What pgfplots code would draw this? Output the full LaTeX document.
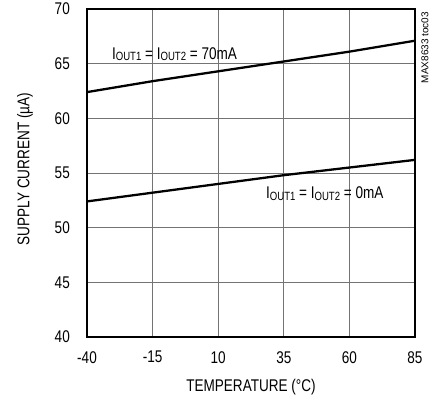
\documentclass[border=0pt]{standalone}
\usepackage{fontspec}
\setmainfont{Liberation Sans}[FakeStretch=0.8]
\newfontfamily\plainsans{Liberation Sans}
\usepackage{pgfplots}
\pgfplotsset{compat=1.18}

% supply current vs temperature
\pgfplotstableread{
T    I
-40  62.4
-15  63.4
10   64.3
35   65.2
60   66.1
85   67.1
}\highload
\pgfplotstableread{
T    I
-40  52.4
-15  53.2
10   54.0
35   54.8
60   55.5
85   56.2
}\noload

\newcommand\sub[1]{\raisebox{-0.1em}{\fontsize{12}{13}\selectfont #1}}
\newcommand\lblfont{\fontsize{17}{20}\selectfont}

\begin{document}
\begin{tikzpicture}
\begin{axis}[
  name=ax,
  width=328bp, height=328bp, scale only axis,
  clip=false,
  xmin=-40, xmax=85, ymin=40, ymax=70,
  xtick={-40,-15,10,35,60,85},
  ytick={40,45,50,55,60,65,70},
  grid=major,
  major grid style={black!55, line width=0.8pt},
  axis line style={line width=2.6pt},
  major tick length=0pt,
  /pgf/number format/assume math mode=true,
  tick label style={font=\lblfont, inner sep=0pt},
  xticklabel shift=14bp,
  yticklabel shift=17bp,
  xlabel={TEMPERATURE (°C)},
  ylabel={SUPPLY CURRENT (µA)},
  x label style={font=\lblfont, inner sep=0pt,
    at={(axis description cs:0.5,0)}, anchor=north, yshift=-42bp},
  y label style={font=\lblfont, inner sep=0pt,
    at={(axis description cs:0,0.5)}, anchor=center, yshift=62bp, xshift=4bp},
]
\addplot[black, line width=2.3pt, no markers] table[x=T, y=I] {\highload};
\addplot[black, line width=2.3pt, no markers] table[x=T, y=I] {\noload};
\node[anchor=base west, inner sep=0pt, font=\lblfont]
  at (axis cs:-30.5,65.4) {I\sub{OUT1} = I\sub{OUT2} = 70mA};
\node[anchor=base west, inner sep=0pt, font=\lblfont]
  at (axis cs:28.2,52.68) {I\sub{OUT1} = I\sub{OUT2} = 0mA};
\end{axis}
\node[rotate=90, anchor=east, inner sep=0pt, font=\plainsans\fontsize{10}{11}\selectfont]
  at ([xshift=10bp,yshift=-3bp]ax.north east) {MAX8633 toc03};
\pgfresetboundingbox
\path ([shift={(-87bp,-63bp)}]ax.south west) rectangle ([shift={(16bp,9bp)}]ax.north east);
\end{tikzpicture}
\end{document}
